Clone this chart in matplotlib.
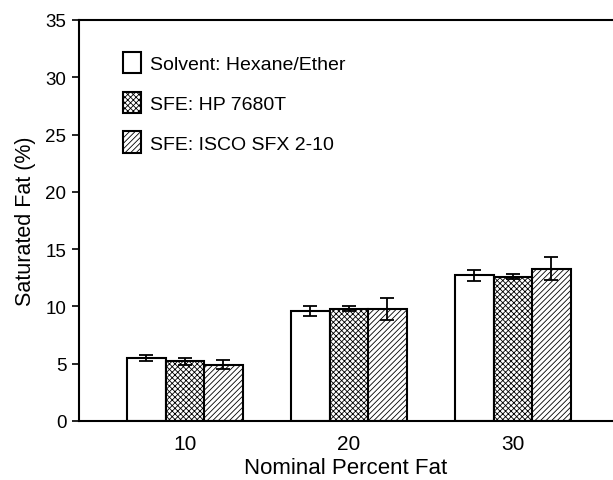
import matplotlib
matplotlib.use('Agg')
from matplotlib import pyplot as plt
import numpy as np

plt.rcParams['font.family'] = ['Liberation Sans', 'DejaVu Sans']
plt.rcParams['hatch.linewidth'] = 0.6

# nominal percent fat groups
groups = [10, 20, 30]
series_names = ['Solvent: Hexane/Ether', 'SFE: HP 7680T', 'SFE: ISCO SFX 2-10']

# saturated fat (%) per method
solvent = [5.5, 9.6, 12.7]
hp7680t = [5.2, 9.8, 12.6]
isco = [4.9, 9.8, 13.3]

# error bars
solvent_err = [0.3, 0.45, 0.5]
hp7680t_err = [0.3, 0.2, 0.23]
isco_err = [0.4, 0.95, 1.0]

fig = plt.figure(figsize=(6.13, 4.81), dpi=100)
ax = fig.add_axes([79 / 613, 1 - 422 / 481, 534 / 613, 401 / 481])

width = 2.35
x = np.array(groups, dtype=float)
hatches = ['', 'xxxxxx', '//////']
values = [solvent, hp7680t, isco]
errs = [solvent_err, hp7680t_err, isco_err]

for i in range(3):
    ax.bar(x + (i - 1) * width, values[i], width, color='white',
           edgecolor='black', linewidth=1.5, hatch=hatches[i],
           label=series_names[i], zorder=2)
    ax.errorbar(x + (i - 1) * width, values[i], yerr=errs[i], fmt='none',
                ecolor='black', elinewidth=1.3, capsize=5, capthick=1.3,
                zorder=3)

ax.set_xlim(3.54, 36.1)
ax.set_ylim(0, 35)
ax.set_xticks(groups)
ax.set_yticks(range(0, 36, 5))
ax.tick_params(axis='x', length=0, labelsize=15, pad=9)
ax.tick_params(axis='y', direction='out', length=5, width=1.2,
               labelsize=13.5, pad=4)
ax.spines['right'].set_visible(False)
for s in ['left', 'top', 'bottom']:
    ax.spines[s].set_linewidth(1.5)

ax.set_xlabel('Nominal Percent Fat', fontsize=16, labelpad=3)
ax.set_ylabel('Saturated Fat (%)', fontsize=15.5, labelpad=7)

ax.legend(loc='upper left', bbox_to_anchor=(0.082, 0.92), frameon=False,
          fontsize=14, handlelength=0.93, handleheight=1.3,
          handletextpad=0.45, labelspacing=0.95, borderaxespad=0,
          borderpad=0)

fig.savefig('out.png', dpi=100)
